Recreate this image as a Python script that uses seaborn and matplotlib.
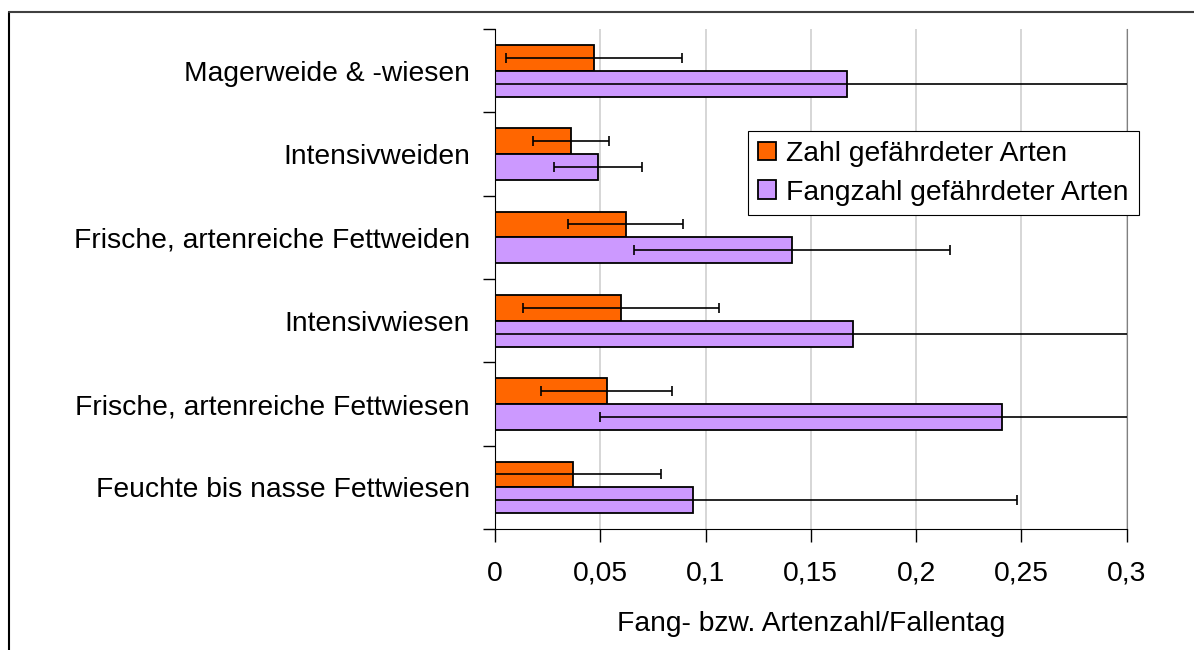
import pandas as pd
import seaborn as sns
import matplotlib.pyplot as plt
from matplotlib.patches import Patch
from matplotlib.lines import Line2D

# DATA
lebensraum = ["Magerweide & -wiesen", "Intensivweiden",
              "Frische, artenreiche Fettweiden", "Intensivwiesen",
              "Frische, artenreiche Fettwiesen", "Feuchte bis nasse Fettwiesen"]
serien = ["Zahl gefährdeter Arten", "Fangzahl gefährdeter Arten"]
zahl = [0.047, 0.036, 0.062, 0.060, 0.053, 0.037]
zahl_err = [0.042, 0.018, 0.0275, 0.0465, 0.031, 0.042]
fang = [0.167, 0.049, 0.141, 0.170, 0.241, 0.094]
fang_err = [0.19, 0.021, 0.075, 0.18, 0.191, 0.154]
x_ticks = [0, 0.05, 0.1, 0.15, 0.2, 0.25, 0.3]
x_ticklabels = ["0", "0,05", "0,1", "0,15", "0,2", "0,25", "0,3"]
farben = ["#FF6600", "#CC99FF"]

df = pd.DataFrame({
    "Lebensraum": lebensraum * 2,
    "Wert": zahl + fang,
    "Reihe": [serien[0]] * len(zahl) + [serien[1]] * len(fang),
})

sns.set_style("white")
plt.rcParams['font.family'] = ['Liberation Sans', 'DejaVu Sans']
plt.rcParams['font.size'] = 20.3
plt.rcParams['text.color'] = 'black'
plt.rcParams['axes.labelcolor'] = 'black'
plt.rcParams['xtick.color'] = 'black'
plt.rcParams['ytick.color'] = 'black'

fig = plt.figure(figsize=(11.94, 6.5), dpi=100)
ax = fig.add_axes([495 / 1194, 1 - 529 / 650, 631.5 / 1194, 500 / 650])

sns.barplot(data=df, y="Lebensraum", x="Wert", hue="Reihe", hue_order=serien,
            order=lebensraum, orient="h", palette=farben, saturation=1,
            edgecolor="black", linewidth=1.3, width=0.62, errorbar=None,
            legend=False, ax=ax)

# error bars (symmetric, clipped by the axis like in Excel)
for cont, errs in zip(ax.containers, [zahl_err, fang_err]):
    ys = [b.get_y() + b.get_height() / 2 for b in cont]
    ws = [b.get_width() for b in cont]
    ax.errorbar(ws, ys, xerr=errs, fmt="none", ecolor="black", elinewidth=1.2,
                capsize=3.6, capthick=1.2, zorder=5)

ax.set_xlim(0, 0.3)
ax.set_ylim(len(lebensraum) - 0.5, -0.5)
ax.set_xticks(x_ticks)
ax.set_xticklabels(x_ticklabels)
ax.set_yticks([i - 0.5 for i in range(len(lebensraum) + 1)], minor=True)
ax.tick_params(axis="y", which="major", length=0, pad=18)
ax.tick_params(axis="y", which="minor", length=9, width=1, color="black", direction="out")
ax.tick_params(axis="x", length=9, width=1, color="black", direction="out", pad=14)
ax.tick_params(left=True, bottom=True)
ax.yaxis.set_tick_params(which="minor", left=True)
ax.set_ylabel("")
ax.set_xlabel("Fang- bzw. Artenzahl/Fallentag", labelpad=17)

ax.set_axisbelow(True)
ax.xaxis.grid(True, color="#d0d0d0", linewidth=1.2)
ax.spines["top"].set_visible(False)
ax.spines["right"].set_color("#808080")
ax.spines["left"].set_color("black")
ax.spines["bottom"].set_color("black")

handles = [Patch(facecolor=c, edgecolor="black", linewidth=1.3) for c in farben]
leg = ax.legend(handles, serien, loc="upper left", bbox_to_anchor=(0.4006, 0.796),
                borderaxespad=0, fancybox=False, framealpha=1, edgecolor="black",
                handlelength=0.65, handleheight=0.65, handletextpad=0.36,
                borderpad=0.35, labelspacing=0.45, fontsize=20.3)
leg.get_frame().set_linewidth(0.8)

# outer chart frame (cut off at right and bottom)
fig.add_artist(Line2D([9 / 1194, 9 / 1194], [0, 1 - 12 / 650], transform=fig.transFigure,
                      color="black", linewidth=1.5))
fig.add_artist(Line2D([9 / 1194, 1], [1 - 12 / 650, 1 - 12 / 650], transform=fig.transFigure,
                      color="#404040", linewidth=1.5))

fig.savefig("out.png", dpi=100)
